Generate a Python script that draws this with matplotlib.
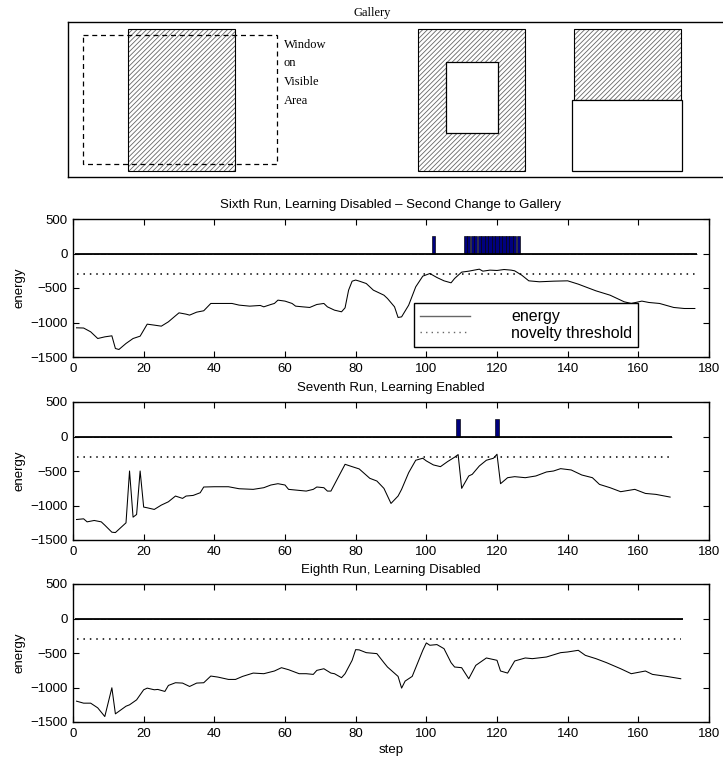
import matplotlib
matplotlib.use("Agg")
import matplotlib.pyplot as plt
from matplotlib.patches import Rectangle
from matplotlib.lines import Line2D

plt.rcParams['font.family'] = ['Liberation Sans', 'DejaVu Sans']
plt.rcParams['hatch.linewidth'] = 0.6

# ---- data ----
novelty_threshold = -300
novelty_height = 250

# Sixth run, learning disabled
steps6 = [1, 3, 5, 7, 9, 11, 12, 13, 15, 17, 19, 21, 23, 25, 27, 29, 30, 32, 33, 35,
          37, 39, 42, 45, 47, 50, 53, 54, 56, 57, 58, 60, 62, 63, 65, 67, 69, 71, 72, 74,
          76, 77, 78, 79, 80, 81, 83, 85, 88, 89, 91, 92, 93, 95, 97, 99, 101, 103, 105, 107,
          108, 110, 112, 115, 116, 118, 120, 122, 124, 125, 127, 129, 132, 136, 140, 143, 145, 148, 152, 156,
          158, 161, 163, 166, 170, 173, 176]
energy6 = [-1077, -1080, -1135, -1232, -1208, -1193, -1377, -1391, -1304, -1232, -1198, -1024, -1038, -1053, -990, -903, -860, -879, -893, -850,
           -830, -724, -724, -724, -748, -763, -753, -773, -739, -724, -676, -690, -724, -763, -773, -782, -739, -724, -773, -821,
           -845, -787, -531, -401, -385, -400, -435, -531, -604, -652, -773, -927, -918, -749, -483, -328, -290, -348, -396, -425,
           -362, -270, -256, -227, -256, -241, -246, -232, -241, -251, -314, -396, -410, -401, -396, -444, -483, -541, -604, -700,
           -724, -690, -710, -724, -782, -797, -797]
n_steps6 = 176
novelty6 = [102, 111, 112, 113, 114, 115, 116, 117, 118, 119, 120, 121, 122, 123, 124, 125, 126]

# Seventh run, learning enabled
steps7 = [1, 3, 4, 6, 8, 9, 11, 12, 15, 16, 17, 18, 19, 20, 21, 23, 25, 27, 29, 31,
          32, 34, 36, 37, 40, 44, 47, 51, 54, 56, 58, 60, 61, 63, 66, 68, 69, 71, 72, 73,
          77, 79, 81, 84, 86, 88, 90, 92, 93, 95, 97, 99, 100, 102, 104, 106, 108, 109, 110, 112,
          113, 115, 117, 119, 120, 121, 123, 125, 128, 131, 134, 136, 138, 141, 144, 147, 149, 152, 155, 159,
          162, 165, 169]
energy7 = [-1203, -1193, -1237, -1217, -1237, -1285, -1387, -1392, -1251, -500, -1169, -1130, -500, -1023, -1033, -1057, -994, -946, -863, -897,
           -863, -854, -815, -732, -728, -728, -757, -766, -742, -703, -684, -703, -766, -776, -791, -766, -732, -742, -791, -791,
           -403, -437, -470, -606, -645, -752, -970, -863, -766, -524, -344, -315, -354, -412, -437, -364, -300, -262, -752, -572,
           -548, -427, -344, -315, -257, -684, -597, -582, -597, -572, -514, -500, -466, -485, -558, -597, -694, -742, -800, -766,
           -825, -839, -878]
n_steps7 = 169
novelty7 = [109, 120]

# Eighth run, learning disabled
steps8 = [1, 3, 5, 7, 9, 11, 12, 15, 16, 18, 20, 21, 23, 24, 26, 27, 29, 31, 33, 35,
          37, 39, 41, 44, 46, 48, 51, 54, 57, 59, 61, 64, 66, 68, 69, 71, 73, 74, 76, 77,
          79, 80, 81, 83, 86, 88, 89, 92, 93, 94, 96, 97, 99, 100, 101, 103, 105, 107, 108, 110,
          112, 114, 117, 120, 121, 123, 125, 128, 130, 134, 138, 140, 143, 145, 148, 151, 155, 158, 162, 164,
          168, 172]
energy8 = [-1198, -1227, -1227, -1295, -1421, -1004, -1382, -1271, -1251, -1179, -1033, -1009, -1033, -1028, -1057, -970, -931, -936, -985, -936,
           -931, -834, -849, -883, -883, -839, -791, -800, -761, -713, -742, -800, -800, -810, -752, -728, -791, -800, -858, -800,
           -606, -451, -455, -495, -509, -640, -703, -839, -1009, -907, -839, -713, -461, -354, -388, -378, -437, -640, -703, -713,
           -873, -679, -572, -606, -761, -791, -616, -572, -582, -558, -495, -485, -461, -534, -582, -640, -728, -800, -761, -810,
           -839, -873]
n_steps8 = 172
novelty8 = []

runs = [
    ("Sixth Run, Learning Disabled \u2013 Second Change to Gallery", steps6, energy6, n_steps6, novelty6),
    ("Seventh Run, Learning Enabled", steps7, energy7, n_steps7, novelty7),
    ("Eighth Run, Learning Disabled", steps8, energy8, n_steps8, novelty8),
]

# gallery sketch (pixel units of the top panel)
window_rect = (83, 35, 194, 129)
hatched_rects = [(128, 29, 107, 142), (418, 29, 107, 142), (574, 29, 107, 71)]
blank_rects = [(446, 62, 52, 71), (572, 100, 110, 71)]
window_label = ["Window", "on", "Visible", "Area"]
window_label_y = [45, 63, 82, 101]

# ---- figure ----
W, H = 723, 765
fig = plt.figure(figsize=(W / 100, H / 100), dpi=100)

def px_axes(left, top, right, bottom):
    return fig.add_axes([left / W, 1 - bottom / H, (right - left) / W, (bottom - top) / H])

# top panel
gal = px_axes(68, 22, 735, 177)
gal.set_xlim(68, 735)
gal.set_ylim(177, 22)
gal.set_xticks([])
gal.set_yticks([])
for sp in gal.spines.values():
    sp.set_linewidth(1.0)
for (x, y, w, h) in hatched_rects:
    gal.add_patch(Rectangle((x, y), w, h, facecolor='white', edgecolor='0.4',
                            hatch='///////', linewidth=0))
    gal.add_patch(Rectangle((x, y), w, h, fill=False, edgecolor='black', linewidth=0.8))
for (x, y, w, h) in blank_rects:
    gal.add_patch(Rectangle((x, y), w, h, facecolor='white', edgecolor='black', linewidth=0.9))
x, y, w, h = window_rect
gal.add_patch(Rectangle((x, y), w, h, fill=False, edgecolor='black', linewidth=0.9,
                        linestyle=(0, (4, 3))))
for txt, ty in zip(window_label, window_label_y):
    gal.text(284, ty, txt, family='Liberation Serif', fontsize=9, ha='left', va='center')
fig.text(372 / W, 1 - 13 / H, "Gallery", family='Liberation Serif', fontsize=9,
         ha='center', va='center')

# run panels
tops = [219, 402, 584]
axes = []
for (title, steps, energy, n_steps, novelty), top in zip(runs, tops):
    ax = px_axes(73, top, 709, top + 138)
    all_steps = list(range(1, n_steps + 1))
    heights = [novelty_height if s in novelty else 0 for s in all_steps]
    ax.bar(all_steps, heights, width=0.95, color='#00007f', edgecolor='black', linewidth=0.45)
    ax.hlines(0, 0.5, n_steps + 0.5, colors='black', linewidth=1.3)
    ax.hlines(novelty_threshold, 1, n_steps, colors='black', linewidth=1.1,
              linestyles=(0, (1.0, 3.2)))
    ax.plot(steps, energy, color='black', linewidth=0.75)
    ax.set_xlim(0, 180)
    ax.set_ylim(-1500, 500)
    ax.set_xticks(range(0, 181, 20))
    ax.set_yticks(range(-1500, 501, 500))
    ax.tick_params(direction='in', top=True, right=True, length=4, width=0.8,
                   labelsize=9.5, pad=4)
    for sp in ax.spines.values():
        sp.set_linewidth(1.0)
    ax.set_title(title, fontsize=9.5, pad=8)
    ax.set_ylabel("energy", fontsize=9.5)
    ax.yaxis.set_label_coords((25 - 73) / 636, 0.5)
    axes.append(ax)

axes[-1].set_xlabel("step", fontsize=9.5, labelpad=3)

handles = [Line2D([], [], color='0.4', linewidth=1.0),
           Line2D([], [], color='0.4', linewidth=1.0, linestyle=(0, (1, 3)))]
leg = axes[0].legend(handles, ["energy", "novelty threshold"], loc='upper left',
                     bbox_to_anchor=(0.536, 0.391, 0.352, 0.0), mode='expand',
                     borderaxespad=0, fontsize=11.5, labelspacing=0.1, borderpad=0.4,
                     handlelength=3.1, handletextpad=2.6, fancybox=False, framealpha=1)
leg.get_frame().set_edgecolor('black')
leg.get_frame().set_linewidth(1.0)

fig.savefig("out.png", dpi=100)
